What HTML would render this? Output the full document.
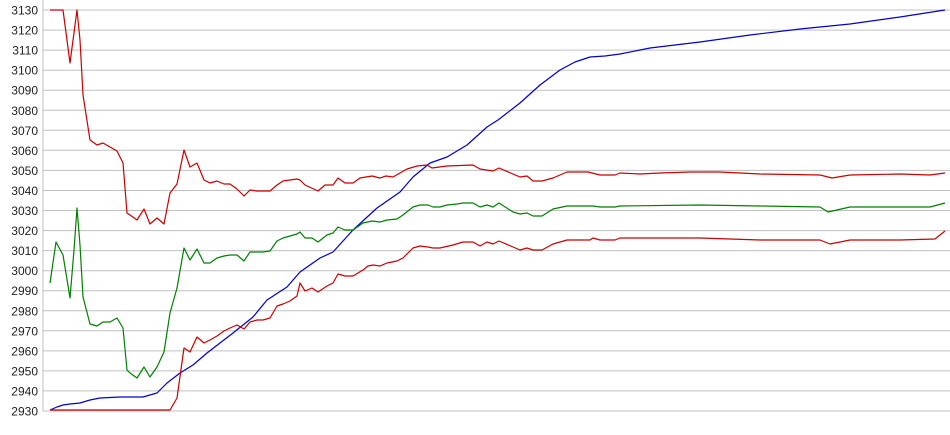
<!DOCTYPE html>
<html><head><meta charset="utf-8"><style>
body{margin:0;background:#fff;}
svg{display:block;font-family:"Liberation Sans",sans-serif;font-size:12px;}
</style></head><body>
<svg width="950" height="435" viewBox="0 0 950 435">
<g stroke="#c0c0c0" stroke-width="1">
<line x1="43" y1="0" x2="43" y2="411"/>
</g>
<g id="grid" stroke="#c0c0c0" stroke-width="1"></g>
<g id="labels" fill="#222" text-anchor="end"></g>
<g fill="none" stroke-width="1.2" stroke-linejoin="round">
<polyline stroke="#0000d0" points="50,410 57,407 63,405 70,404 80,403 90,400 100,398 120,397 143,397 157,393 167,383 180,373 193,365 207,353 233,333 253,317 267,300 287,287 300,272 320,258 333,252 353,230 377,208 400,192 413,177 430,163 447,157 467,145 487,127 498,120 520,103 540,85 560,70 575,62 590,57 605,56 620,54 650,48 700,42 750,35 800,29 850,24 900,17 945,10"/>
<polyline stroke="#cc0000" points="50,10 63,10 70,63 77,10 80,40 83,95 90,140 97,145 103,143 110,147 117,151 123,163 127,213 130,215 137,220 144,209 150,224 157,218 164,224 170,193 177,184 184,150 190,167 197,163 204,180 210,183 217,181 224,184 230,184 237,189 244,196 250,190 257,191 263,191 270,191 277,185 283,181 290,180 297,179 300,180 305,185 318,191 325,185 333,185 338,178 345,183 353,183 360,178 372,176 380,178 386,176 393,177 400,173 407,169 417,166 427,165 432,168 447,166 473,165 480,169 493,171 499,168 520,177 527,176 533,181 542,181 553,178 567,172 588,172 600,175 615,175 620,173 640,174 660,173 690,172 720,172 760,174 820,175 832,178 850,175 900,174 930,175 945,173"/>
<polyline stroke="#008000" points="50,283 56,242 63,255 70,298 74,250 77,208 80,245 83,297 90,324 97,326 103,322 110,322 117,318 123,328 127,370 130,373 137,378 144,367 150,377 157,367 164,352 170,313 177,288 184,248 190,260 197,249 204,263 210,263 217,258 224,256 230,255 237,255 244,261 250,252 257,252 263,252 270,251 277,241 283,238 290,236 297,234 300,232 305,238 312,238 318,242 327,235 333,233 338,227 345,230 353,230 363,223 372,221 380,222 387,220 397,219 403,215 413,207 420,205 428,205 433,207 440,207 447,205 457,204 463,203 473,203 480,207 487,205 493,207 499,203 513,212 520,214 527,213 533,216 542,216 553,209 567,206 593,206 600,207 615,207 620,206 700,205 760,206 820,207 828,212 850,207 930,207 945,203"/>
<polyline stroke="#cc0000" points="50,410 170,410 177,398 184,348 190,352 197,337 204,343 210,340 217,336 224,331 230,328 237,325 244,329 250,322 257,320 263,320 270,318 277,306 283,304 290,301 297,296 300,283 305,291 312,288 318,292 327,286 333,283 338,274 345,276 353,276 363,270 368,266 373,265 380,266 387,263 397,261 403,258 413,248 420,246 428,247 433,248 440,248 453,245 463,242 473,242 480,246 487,242 493,244 499,241 513,247 520,250 527,248 533,250 542,250 553,244 567,240 590,240 593,238 600,240 615,240 620,238 700,238 760,240 820,240 830,244 850,240 900,240 935,239 945,231"/>
</g>
<script>
var g=document.getElementById('grid'),l=document.getElementById('labels');
for(var i=0;i<=20;i++){var v=3130-10*i,y=10+i*20.05;
var ln=document.createElementNS('http://www.w3.org/2000/svg','line');
ln.setAttribute('x1',43);ln.setAttribute('x2',950);ln.setAttribute('y1',y.toFixed(1));ln.setAttribute('y2',y.toFixed(1));g.appendChild(ln);
var t=document.createElementNS('http://www.w3.org/2000/svg','text');t.setAttribute('x',38);t.setAttribute('y',(y+4.5).toFixed(1));t.textContent=v;l.appendChild(t);}
</script>
</svg>
</body></html>
